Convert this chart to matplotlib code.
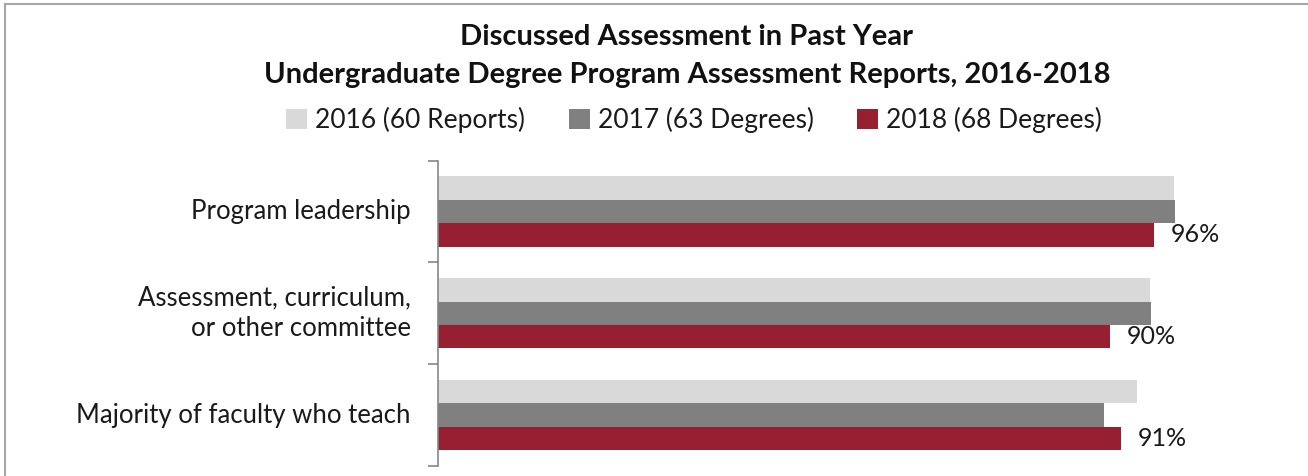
import matplotlib.pyplot as plt
from matplotlib.lines import Line2D
from matplotlib.patches import Patch
import numpy as np

plt.rcParams['font.family'] = ['Lato', 'DejaVu Sans']

## Data ##

categories = ["Program leadership", "Assessment, curriculum,\nor other committee", "Majority of faculty who teach"]
series_names = ["2016 (60 Reports)", "2017 (63 Degrees)", "2018 (68 Degrees)"]
values_2016 = [98.3, 95.0, 93.3]
values_2017 = [98.4, 95.2, 88.9]
values_2018 = [95.6, 89.7, 91.2]
labels_2018 = ["96%", "90%", "91%"]

colors = ["#D9D9D9", "#808080", "#971F32"]

####

fig = plt.figure(figsize=(13.08, 4.76), dpi=100)
ax = fig.add_axes([437.5 / 1308, 1 - 466 / 476, (1187 - 437.5) / 1308, (466 - 160.7) / 476])

y = np.arange(len(categories))
h = 0.23
all_vals = [values_2016, values_2017, values_2018]
for i, (vals, col) in enumerate(zip(all_vals, colors)):
    ax.barh(y + (i - 1) * h, vals, height=h, color=col, label=series_names[i])

# data labels on the 2018 bars
for yi, v, lab in zip(y, values_2018, labels_2018):
    ax.text(v + 2.2, yi + h, lab, va="center", ha="left", fontsize=18, color="#1a1a1a")

ax.set_xlim(0, 100)
ax.set_ylim(2.5, -0.5)
ax.set_yticks(np.arange(-0.5, 3.0, 1.0))
ax.set_yticklabels([])
ax.set_xticks([])
ax.tick_params(axis="y", direction="out", length=7, color="#868686", width=1.2)
for s in ("top", "right", "bottom"):
    ax.spines[s].set_visible(False)
ax.spines["left"].set_color("#868686")
ax.spines["left"].set_linewidth(1.2)

# category labels
for yi, cat in zip(y, categories):
    ax.text(-0.036, yi, cat, transform=ax.get_yaxis_transform(), ha="right", va="center",
            fontsize=18.5, color="#1a1a1a", linespacing=1.3)

# title
fig.text(687 / 1308, 1 - 37 / 476, "Discussed Assessment in Past Year", ha="center", va="center",
         fontsize=21, fontweight="bold", color="#111111")
fig.text(687 / 1308, 1 - 75 / 476, "Undergraduate Degree Program Assessment Reports, 2016-2018",
         ha="center", va="center", fontsize=21, fontweight="bold", color="#111111")

# legend
handles = [Patch(facecolor=c, edgecolor="none") for c in colors]
fig.legend(handles, series_names, loc="center", bbox_to_anchor=(694 / 1308, 1 - 120 / 476), ncol=3,
           frameon=False, fontsize=19, handlelength=0.8, handleheight=0.8, handletextpad=0.3,
           columnspacing=1.65, labelcolor="#1a1a1a")

# outer frame
fig.add_artist(Line2D([5 / 1308, 5 / 1308], [0, 1 - 4 / 476], transform=fig.transFigure, color="#A6A6A6", lw=1.5))
fig.add_artist(Line2D([5 / 1308, 1], [1 - 4 / 476, 1 - 4 / 476], transform=fig.transFigure, color="#A6A6A6", lw=1.5))

fig.savefig("out.png", dpi=100)
